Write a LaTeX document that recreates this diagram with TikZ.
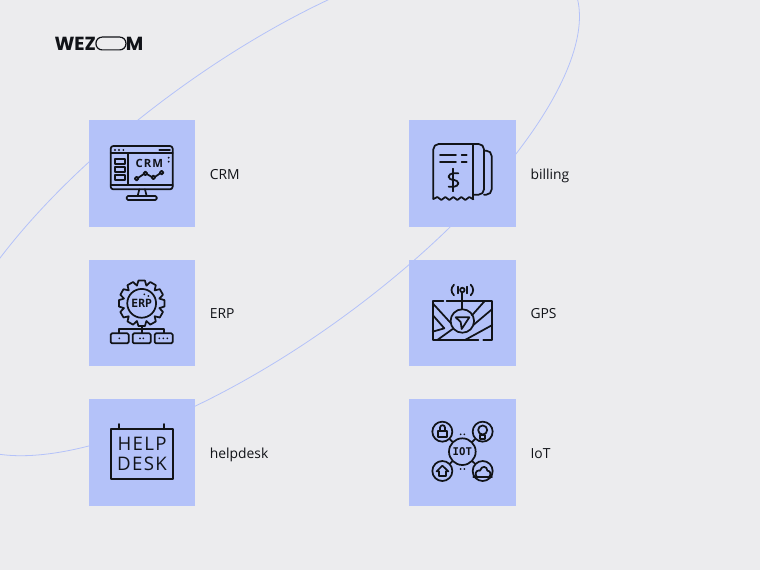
\documentclass[tikz,border=0pt]{standalone}
\usepackage{fontspec}
\setmainfont{Open Sans}
\newfontfamily\logofont{Poppins}
\newfontfamily\signfont[LetterSpace=7]{Open Sans}
\newfontfamily\crmfont[LetterSpace=10]{Open Sans}
\newfontfamily\iotfont{DejaVu Sans Mono}
\usetikzlibrary{positioning}
\definecolor{paper}{HTML}{ECECEE}
\definecolor{tileblue}{HTML}{B4C2F9}
\definecolor{ink}{HTML}{111318}
\tikzset{
	tile/.style={rectangle, fill=tileblue, inner sep=0, outer sep=0, minimum size=80pt},
	texto/.style={font=\fontsize{10.4}{12}\selectfont, text=ink, inner sep=0, outer sep=0, text height=8.6pt, text depth=0pt},
	logo/.style={font=\logofont\bfseries\fontsize{14.2}{15}\selectfont, text=ink, inner sep=0, outer sep=0},
	icon/.style={x=0.25pt, y=-0.25pt, draw=ink, line width=1.3pt, line cap=round, line join=round},
	hub/.style={circle, draw=ink, line width=1.3pt, inner sep=0, text=ink}
}

\begin{document}
\begin{tikzpicture}[x=0.75pt, y=-0.75pt]
	\useasboundingbox (0,0) rectangle (760,570);
	\clip (0,0) rectangle (760,570);
	\fill[paper] (0,0) rectangle (760,570);
	\draw[tileblue, line width=0.6pt] (259.5,204) circle [x radius=382, y radius=140.5, rotate=36];

	\node [logo, anchor=west] (wez) at (54.5,43.5) {WEZ};
	\node [rectangle, draw=ink, line width=0.9pt, rounded corners=4.6pt, minimum width=22.5pt, minimum height=9.6pt, inner sep=0, outer sep=0, right = 0pt of wez] (o) {};
	\node [logo, right = 0pt of o] (m) {M};

	\node [tile, anchor=north west] (crm) at (88.5,120) {};
	\node [tile, below = 24.75pt of crm] (erp) {};
	\node [tile, below = 24.75pt of erp] (helpdesk) {};
	\node [tile, right = 160.5pt of crm] (billing) {};
	\node [tile, below = 24.75pt of billing] (gps) {};
	\node [tile, below = 24.75pt of gps] (iot) {};

	\node [texto, right = 11pt of crm] (crml) {CRM};
	\node [texto, right = 11pt of erp] (erpl) {ERP};
	\node [texto, right = 11pt of helpdesk] (helpdeskl) {helpdesk};
	\node [texto, right = 11pt of billing] (billingl) {billing};
	\node [texto, right = 11pt of gps] (gpsl) {GPS};
	\node [texto, right = 11pt of iot] (iotl) {IoT};

	% CRM
	\begin{scope}[shift={(90,120)}, icon]
		\draw[rounded corners=2pt] (62,208) rectangle (248,78);
		\draw (62,100) -- (248,100);
		\draw (62,195) -- (248,195);
		\draw (113,100) -- (113,195);
		\draw (208,90) -- (240,90);
		\foreach \x in {75,87,100} \fill[ink] (\x,90) circle (0.8pt);
		\foreach \y in {113,125} \fill[ink] (236,\y) circle (0.8pt);
		\foreach \y in {117,142,166} \draw (75,\y) rectangle (104,\y+15);
		\node [inner sep=0, text=ink] (crmt) at (178,129) {\crmfont\bfseries\fontsize{8.5}{9}\selectfont CRM};
		\draw (145,173) -- (160,163) (172,163) -- (184,170) (196,170) -- (209,161);
		\foreach \x/\y in {140/176, 166/160, 190/172, 215/158} \draw (\x,\y) circle (1.4pt);
		\draw (148,208) -- (143,228) (165,208) -- (170,228);
		\draw[rounded corners=1pt] (110,228) rectangle (200,240);
	\end{scope}

	% ERP
	\begin{scope}[shift={(90,260)}, icon]
		\begin{scope}[shift={(155,130)}]
			\draw (-15:55) \foreach \a in {0,30,...,330} { -- (\a-8:69) -- (\a+8:69) -- (\a+15:55) } -- cycle;
		\end{scope}
		\draw (155,130) circle (10.8pt);
		\node [inner sep=0, text=ink] (erpt) at (155,131) {\iotfont\bfseries\fontsize{8.5}{9}\selectfont ERP};
		\fill[ink] (163,103) circle (0.7pt) (175,108) circle (0.7pt);
		\draw (155,198) -- (155,220);
		\draw (88,220) -- (88,208) -- (222,208) -- (222,220);
		\foreach \x in {62,128,194} \draw[rounded corners=1pt] (\x,220) rectangle (\x+54,250);
		\fill[ink] (88,235) circle (0.7pt);
		\foreach \x in {150,160} \fill[ink] (\x,235) circle (0.7pt);
		\foreach \x in {208,220,232} \fill[ink] (\x,235) circle (0.7pt);
	\end{scope}

	% helpdesk
	\begin{scope}[shift={(90,400)}, icon]
		\draw (62,88) rectangle (248,237);
		\draw (88,72) -- (88,88) (222,72) -- (222,88);
		\node [inner sep=0, text=ink] (help) at (156,133) {\signfont\fontsize{14}{15}\selectfont HELP};
		\node [inner sep=0, text=ink] (desk) at (156,192) {\signfont\fontsize{14}{15}\selectfont DESK};
	\end{scope}

	% billing
	\begin{scope}[shift={(410,120)}, icon]
		\draw[rounded corners=4pt] (70,237) -- (70,72) -- (222,72) -- (222,224) -- (190,224);
		\draw (70,237) -- (82,231) -- (94,240) -- (106,231) -- (118,240) -- (130,231) -- (142,240) -- (154,231) -- (166,240) -- (178,231) -- (190,238);
		\draw[rounded corners=4pt] (190,238) -- (190,72);
		\draw[rounded corners=4pt] (222,92) -- (245,92) -- (245,224) -- (222,224);
		\draw (90,104) -- (138,104) (90,127) -- (138,127);
		\draw (155,104) -- (170,104) (155,127) -- (170,127);
		\draw (130,146) -- (130,214);
		\draw[rounded corners=3pt] (145,160) -- (116,160) -- (116,180) -- (145,180) -- (145,200) -- (116,200);
	\end{scope}

	% GPS
	\begin{scope}[shift={(410,260)}, icon]
		\draw (100,122) -- (68,122) -- (68,240) -- (205,240);
		\draw (110,122) -- (247,122) -- (247,240) -- (220,240);
		\draw (157,97) -- (157,148);
		\draw (157,90) circle (1.7pt);
		\draw (132,74) .. controls (122,84) and (122,96) .. (132,106);
		\draw (182,74) .. controls (192,84) and (192,96) .. (182,106);
		\draw (143,80) -- (143,100) (171,80) -- (171,100);
		\draw (157,183) circle (8.8pt);
		\draw (137,172) -- (178,172) -- (155,207) -- (152,186) -- cycle;
		\draw (70,132) -- (123,190) (68,165) -- (103,205) -- (68,215);
		\draw (82,240) -- (128,207);
		\draw (186,166) -- (225,122) (190,195) -- (247,147);
		\draw (165,240) -- (247,195);
	\end{scope}

	% IoT
	\begin{scope}[shift={(410,400)}, icon]
		\node [hub, minimum size=20pt] (thing) at (157,155) {\iotfont\bfseries\fontsize{8}{9}\selectfont IOT};
		\node [hub, minimum size=15pt] (lock) at (97,95) {};
		\node [hub, minimum size=15pt] (bulb) at (218,95) {};
		\node [hub, minimum size=15pt] (house) at (97,213) {};
		\node [hub, minimum size=15pt] (cloud) at (218,213) {};
		\draw (thing) -- (lock);
		\draw (thing) -- (bulb);
		\draw (thing) -- (house);
		\draw (thing) -- (cloud);
		\foreach \x in {152,163} \fill[ink] (\x,103) circle (0.7pt) (\x,207) circle (0.7pt);
		\draw (85,92) rectangle (110,110);
		\draw (90,92) -- (90,83) arc (180:360:7.5) -- (105,92);
		\draw (218,90) circle (3.4pt);
		\draw (211,105) rectangle (225,118);
		\draw (80,214) -- (97,197) -- (115,214) -- (108,214) -- (108,228) -- (87,228) -- (87,214) -- cycle;
		\draw (190,230) -- (246,230);
		\draw (200,230) .. controls (190,212) and (208,210) .. (210,212) .. controls (214,196) and (232,198) .. (232,212) .. controls (242,212) and (244,224) .. (238,230);
	\end{scope}
\end{tikzpicture}
\end{document}
